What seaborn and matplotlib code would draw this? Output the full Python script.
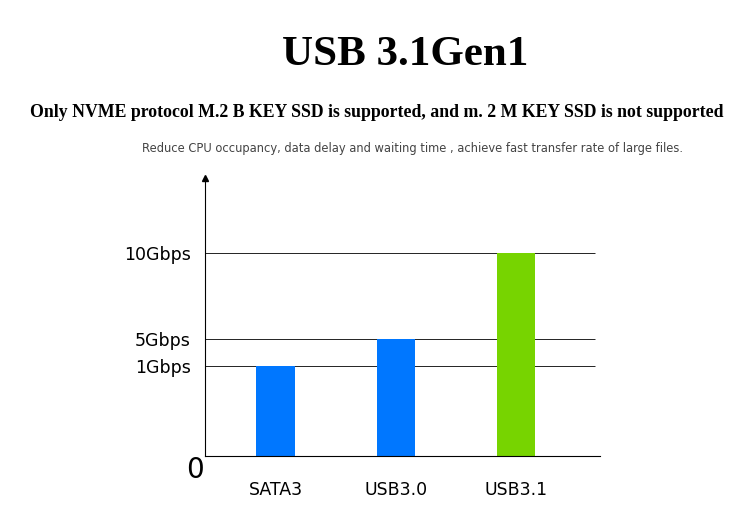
import numpy as np
import matplotlib
matplotlib.use("Agg")
import matplotlib.pyplot as plt
import seaborn as sns
import pandas as pd

categories = ["SATA3", "USB3.0", "USB3.1"]
speeds = [1, 5, 10]
tick_values = [1, 5, 10]
tick_labels = ["1Gbps", "5Gbps", "10Gbps"]
colors = ["#0077ff", "#0077ff", "#77d400"]

# the picture's y axis is not linear, so map speeds to its spacing
scale_in = [0, 1, 5, 10, 15]
scale_out = [0, 90, 117, 203, 289]

def fwd(v):
    return np.interp(v, scale_in, scale_out)

def inv(v):
    return np.interp(v, scale_out, scale_in)

df = pd.DataFrame({"cat": categories, "speed": speeds})

sns.set_style("white")
plt.rcParams["text.color"] = "black"
plt.rcParams["xtick.color"] = "black"
plt.rcParams["ytick.color"] = "black"
fig = plt.figure(figsize=(7.5, 5.26), dpi=100)
ax = fig.add_axes([0.273, 0.133, 0.527, 0.529])

sns.barplot(data=df, x="cat", y="speed", hue="cat", palette=colors,
            width=0.32, legend=False, ax=ax, saturation=1, linewidth=0)
ax.set_yscale("function", functions=(fwd, inv))
ax.set_ylim(0, 14.4)
ax.set_xlim(-0.59, 2.7)

for v in tick_values:
    ax.hlines(v, -0.59, 2.66, color="black", lw=0.6, zorder=0)

ax.set_yticks(tick_values)
ax.set_yticklabels(tick_labels, fontsize=12.5)
ax.tick_params(axis="y", length=0, pad=10)
ax.tick_params(axis="x", length=0, pad=18, labelsize=12.5)
ax.set_xlabel("")
ax.set_ylabel("")
ax.text(-0.6, -0.25, "0", fontsize=20, ha="right", va="top")

for s in ["top", "right"]:
    ax.spines[s].set_visible(False)
for s in ["left", "bottom"]:
    ax.spines[s].set_color("black")
    ax.spines[s].set_linewidth(0.8)
ax.plot(0, 1, "^k", ms=4, transform=ax.transAxes, clip_on=False)

fig.text(0.54, 0.895, "USB 3.1Gen1", family="Liberation Serif", weight="bold",
         fontsize=31, ha="center", va="center")
fig.text(0.503, 0.787, "Only NVME protocol M.2 B KEY SSD is supported, and m. 2 M KEY SSD is not supported",
         family="Liberation Serif", weight="bold", fontsize=12.8, ha="center", va="center")
fig.text(0.55, 0.718, "Reduce CPU occupancy, data delay and waiting time , achieve fast transfer rate of large files.",
         fontsize=8.3, color="#444444", ha="center", va="center")

fig.savefig("out.png", dpi=100)
